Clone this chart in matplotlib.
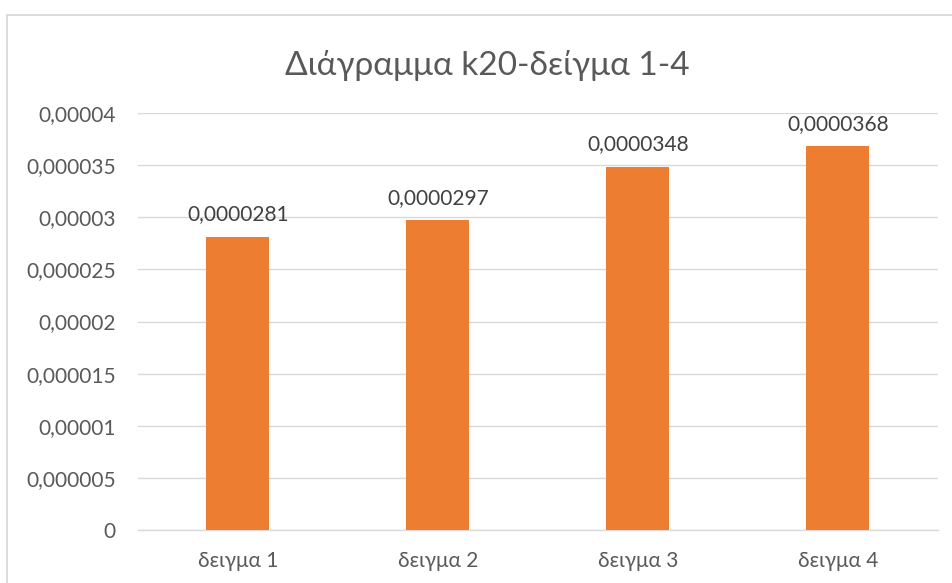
import matplotlib
matplotlib.use("Agg")
import matplotlib.pyplot as plt
from matplotlib.patches import Rectangle
from matplotlib.ticker import FixedLocator

categories = ["δειγμα 1", "δειγμα 2", "δειγμα 3", "δειγμα 4"]
values = [0.0000281, 0.0000297, 0.0000348, 0.0000368]
value_labels = ["0,0000281", "0,0000297", "0,0000348", "0,0000368"]
yticks = [0, 0.000005, 0.00001, 0.000015, 0.00002, 0.000025, 0.00003, 0.000035, 0.00004]
ytick_labels = ["0", "0,000005", "0,00001", "0,000015", "0,00002", "0,000025", "0,00003", "0,000035", "0,00004"]
title = "Διάγραμμα k20-δείγμα 1-4"

plt.rcParams['font.family'] = ['Lato', 'DejaVu Sans']

W, H = 953, 583
fig = plt.figure(figsize=(W / 100, H / 100), dpi=100)

# chart border
fig.patches.append(Rectangle((7 / W, -0.01), 1.01 - 7 / W, 1.01 - 14.5 / H, transform=fig.transFigure,
                             fill=False, edgecolor="#d9d9d9", linewidth=1.3))

left, right = 138 / W, 938 / W
top, bottom = 1 - 113 / H, 1 - 530 / H
ax = fig.add_axes([left, bottom, right - left, top - bottom])

x = list(range(len(categories)))
ax.bar(x, values, width=0.315, color="#ed7d31", zorder=3)
ax.set_xlim(-0.5, len(categories) - 0.5)
ax.set_ylim(0, 0.00004)

ax.yaxis.set_major_locator(FixedLocator(yticks))
ax.set_yticklabels(ytick_labels)
ax.set_xticks(x)
ax.set_xticklabels(categories)

ax.grid(axis="y", color="#d9d9d9", linewidth=1.0, zorder=0)
for s in ["top", "right", "left"]:
    ax.spines[s].set_visible(False)
ax.spines["bottom"].set_color("#d9d9d9")
ax.spines["bottom"].set_linewidth(1.0)
ax.tick_params(axis="both", length=0, labelsize=15, colors="#595959")
ax.tick_params(axis="y", pad=16)
ax.tick_params(axis="x", pad=15)

for xi, v, lab in zip(x, values, value_labels):
    ax.annotate(lab, (xi, v), xytext=(0, 12), textcoords="offset points",
                ha="center", va="baseline", fontsize=15, color="#404040")

fig.text(487 / W, 1 - 75 / H, title, ha="center", va="baseline",
         fontsize=24, color="#595959")

fig.savefig("out.png", dpi=100)
